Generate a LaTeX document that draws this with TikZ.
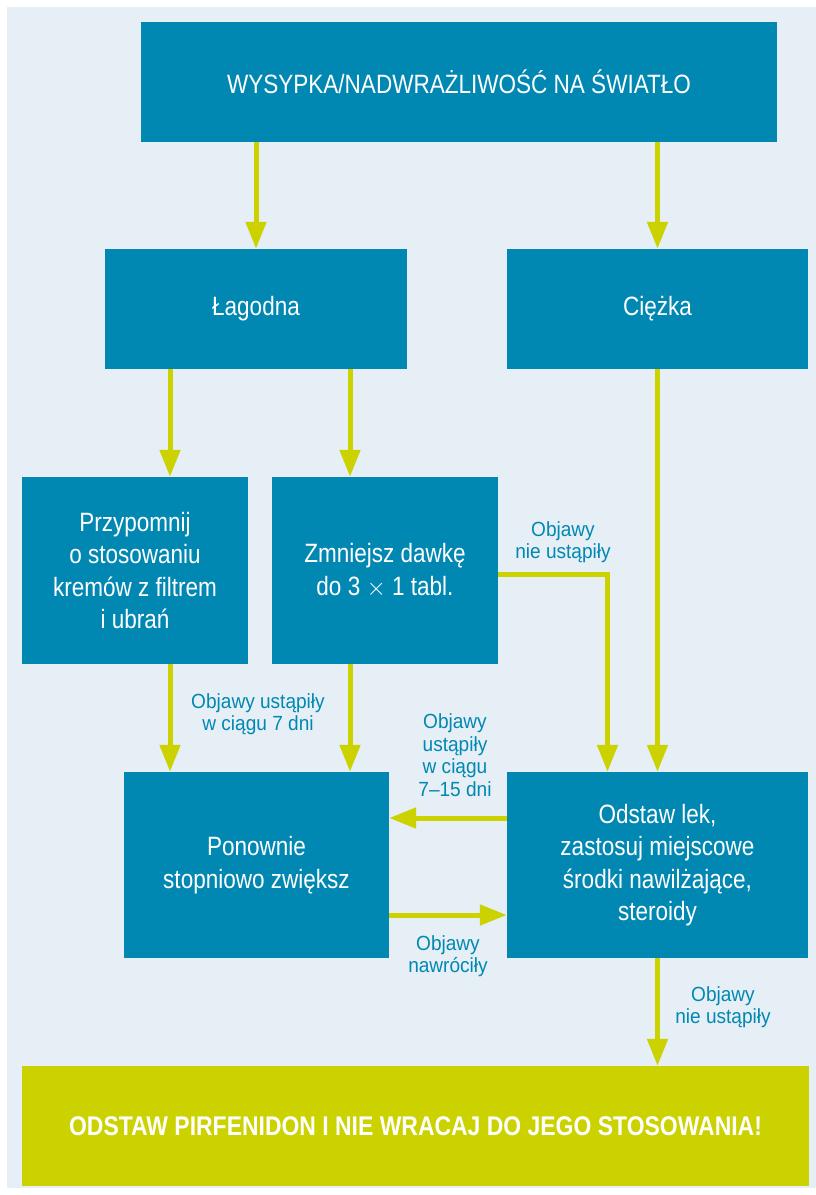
\documentclass[tikz,border=0pt]{standalone}
\usepackage{fontspec}
\setmainfont{Liberation Sans}[FakeStretch=0.85]
\newfontfamily\lblfont{Liberation Sans}[FakeStretch=0.93]
\usetikzlibrary{calc,arrows.meta}
\definecolor{boxblue}{RGB}{0,136,179}
\definecolor{limegreen}{RGB}{204,209,0}
\definecolor{bgblue}{RGB}{230,239,245}

\begin{document}
\begin{tikzpicture}[x=1pt,y=-1pt,
  box/.style={fill=boxblue,text=white,align=center,inner sep=0pt,
    font=\fontsize{26.5}{32.5}\selectfont},
  endbox/.style={fill=limegreen,text=white,align=center,inner sep=0pt,
    font=\fontsize{27}{32}\selectfont\bfseries},
  lbl/.style={text=boxblue,align=center,inner sep=0pt,
    font=\lblfont\fontsize{20.5}{22.5}\selectfont},
  arr/.style={draw=limegreen,line width=5pt,-{Triangle[length=27pt,width=20pt]}}]
\useasboundingbox (0,0) rectangle (816,1195);
\fill[bgblue] (7,7) rectangle (816,1188);
% boxes
\node[box,minimum width=636pt,minimum height=120pt] (top) at (459,82) {WYSYPKA/NADWRAŻLIWOŚĆ NA ŚWIATŁO};
\node[box,minimum width=302pt,minimum height=120pt] (lagodna) at (256,309) {Łagodna};
\node[box,minimum width=301pt,minimum height=120pt] (ciezka) at (657.5,309) {Ciężka};
\node[box,minimum width=226pt,minimum height=187pt] (przyp) at (135,570.5) {Przypomnij\\o stosowaniu\\kremów z filtrem\\i ubrań};
\node[box,minimum width=226pt,minimum height=187pt] (zmn) at (385,570.5) {Zmniejsz dawkę\\do 3 $\times$ 1 tabl.};
\node[box,minimum width=265pt,minimum height=186pt] (ponow) at (256.5,865) {Ponownie\\stopniowo zwiększ};
\node[box,minimum width=301pt,minimum height=186pt] (odstaw) at (657.5,865) {Odstaw lek,\\zastosuj miejscowe\\środki nawilżające,\\steroidy};
\node[endbox,minimum width=787pt,minimum height=120pt] (stop) at (415.5,1126) {ODSTAW PIRFENIDON I NIE WRACAJ DO JEGO STOSOWANIA!};
% arrows
\draw[arr] (top.south -| lagodna.north) -- (lagodna.north);
\draw[arr] (top.south -| ciezka.north) -- (ciezka.north);
\draw[arr] ([xshift=-86pt]lagodna.south) -- ([xshift=-86pt]lagodna.south |- przyp.north);
\draw[arr] ([xshift=94pt]lagodna.south) -- ([xshift=94pt]lagodna.south |- zmn.north);
\draw[arr] ([xshift=35pt]przyp.south) -- ([xshift=35pt]przyp.south |- ponow.north);
\draw[arr] ([xshift=-35pt]zmn.south) -- ([xshift=-35pt]zmn.south |- ponow.north);
\draw[arr] ([yshift=-4pt]zmn.east) -| ([xshift=-50pt]odstaw.north);
\draw[arr] (ciezka.south) -- (odstaw.north);
\draw[arr] ([yshift=47pt]odstaw.west) -- ([yshift=47pt]odstaw.west -| ponow.east);
\draw[arr] ([yshift=-50pt]ponow.east) -- ([yshift=-50pt]ponow.east -| odstaw.west);
\draw[arr] (odstaw.south) -- (odstaw.south |- stop.north);
% labels
\node[lbl] (l1) at (563,542) {Objawy\\nie ustąpiły};
\node[lbl] (l2) at (258,714) {Objawy ustąpiły\\w ciągu 7 dni};
\node[lbl] (l3) at (455,755) {Objawy\\ustąpiły\\w ciągu\\7–15 dni};
\node[lbl] (l4) at (448,956) {Objawy\\nawróciły};
\node[lbl] (l5) at (723,1007) {Objawy\\nie ustąpiły};
\end{tikzpicture}
\end{document}
